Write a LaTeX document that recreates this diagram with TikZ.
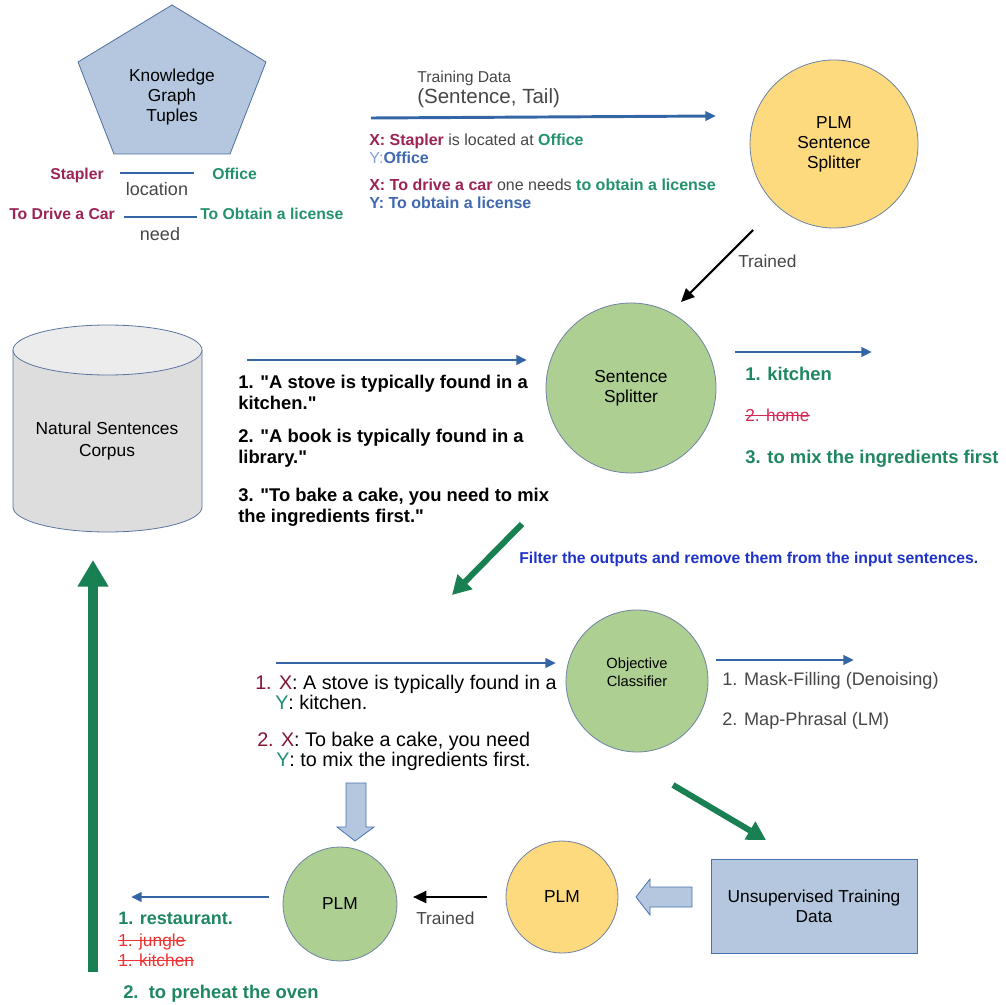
\documentclass[tikz,border=0pt]{standalone}
\usepackage{fontspec}
\setmainfont{Liberation Sans}[Ligatures=TeXOff]
\usetikzlibrary{arrows.meta}

\definecolor{kgblue}{RGB}{180,199,222}
\definecolor{kgborder}{RGB}{80,110,160}
\definecolor{lineblue}{RGB}{52,101,164}
\definecolor{plmyellow}{RGB}{253,218,125}
\definecolor{plmgreen}{RGB}{173,207,145}
\definecolor{circborder}{RGB}{110,130,165}
\definecolor{headred}{RGB}{155,35,85}
\definecolor{tailgreen}{RGB}{35,145,110}
\definecolor{ylight}{RGB}{130,160,210}
\definecolor{yblue}{RGB}{65,105,175}
\definecolor{darkgreen}{RGB}{24,128,82}
\definecolor{outgreen}{RGB}{30,135,95}
\definecolor{pinkred}{RGB}{215,40,85}
\definecolor{brightred}{RGB}{240,50,50}
\definecolor{filterblue}{RGB}{30,50,200}
\definecolor{cylbody}{RGB}{221,221,221}
\definecolor{cyltop}{RGB}{236,236,236}
\definecolor{cylborder}{RGB}{90,115,160}
\definecolor{textgray}{RGB}{70,70,70}
\definecolor{xred}{RGB}{130,20,50}
\definecolor{ygreen}{RGB}{30,140,120}
\definecolor{rectborder}{RGB}{70,114,180}

\begin{document}
\begin{tikzpicture}[x=0.75pt, y=-0.75pt,
        blue arrow/.style={lineblue, line width=2.2pt, -{Triangle[length=8pt, width=7pt]}},
        black arrow/.style={black, line width=1.6pt, -{Triangle[length=10pt, width=9pt]}},
        green arrow/.style={darkgreen, line width=4.5pt, -{Triangle[length=14pt, width=15pt]}},
        rel line/.style={lineblue, line width=2.2pt},
        strike/.style={line width=0.7pt},
        block/.style={fill=kgblue, draw=rectborder, line width=0.6pt},
        model/.style={circle, draw=circborder, line width=0.6pt, inner sep=0pt, align=center,
            font=\fontsize{13}{15}\selectfont},
        txt/.style={anchor=base west, inner sep=0pt, font=\fontsize{13}{15}\selectfont},
        btxt/.style={txt, font=\fontsize{13.8}{16}\selectfont\bfseries},
        stxt/.style={txt, font=\fontsize{12}{15}\selectfont},
        ltxt/.style={txt, font=\fontsize{14.8}{17}\selectfont},
    ]
        \useasboundingbox (0,0) rectangle (1006,1005);

        % knowledge graph tuples
        \filldraw[fill=kgblue, draw=kgborder, line width=0.6pt] (172,5) -- (266,62) -- (230,154) -- (114,154) -- (78,62) -- cycle;
        \node[align=center, font=\fontsize{13}{15}\selectfont] (kg) at (172,97) {Knowledge\\Graph\\Tuples};

        \node[txt, anchor=base east, headred, font=\fontsize{11.8}{14}\selectfont\bfseries] (stapler) at (104,180) {Stapler};
        \node[txt, tailgreen, font=\fontsize{11.8}{14}\selectfont\bfseries] (office) at (212,180) {Office};
        \node[txt, anchor=base, textgray, font=\fontsize{13.5}{16}\selectfont] (location) at (157,196) {location};
        \node[txt, headred, font=\fontsize{11.8}{14}\selectfont\bfseries] (drive) at (9,220) {To Drive a Car};
        \node[txt, tailgreen, font=\fontsize{11.8}{14}\selectfont\bfseries] (obtain) at (200,220) {To Obtain a license};
        \node[txt, anchor=base, textgray, font=\fontsize{13.5}{16}\selectfont] (need) at (160,241) {need};
        \coordinate (r1a) at (120,173);
        \coordinate (r1b) at (194,173);
        \coordinate (r2a) at (124,217);
        \coordinate (r2b) at (197,217);
        \draw[rel line] (r1a) -- (r1b);
        \draw[rel line] (r2a) -- (r2b);

        % training data
        \node[txt, textgray, font=\fontsize{11.8}{14}\selectfont] (tdlabel) at (417,83) {Training Data};
        \node[txt, textgray, font=\fontsize{15.4}{18}\selectfont] (tdpair) at (417,104) {(Sentence, Tail)};
        \coordinate (tda) at (371,118);
        \coordinate (tdb) at (716,116);
        \draw[blue arrow] (tda) -- (tdb);

        \node[stxt] (ex1x) at (369,146) {\textbf{\color{headred}X: Stapler} {\color{textgray}is located at} \textbf{\color{tailgreen}Office}};
        \node[stxt] (ex1y) at (369,164) {{\color{ylight}Y:}\textbf{\color{yblue}Office}};
        \node[stxt] (ex2x) at (369,191) {\textbf{\color{headred}X: To drive a car} {\color{textgray}one needs} \textbf{\color{tailgreen}to obtain a license}};
        \node[stxt] (ex2y) at (369,209) {\textbf{\color{yblue}Y: To obtain a license}};

        \node[model, fill=plmyellow, minimum size=126pt] (plmss) at (834,144) {PLM\\Sentence\\Splitter};

        \coordinate (tr1a) at (753,230);
        \coordinate (tr1b) at (681,302);
        \draw[black arrow] (tr1a) -- (tr1b);
        \node[txt, textgray] (trained1) at (738,268) {Trained};

        \node[model, fill=plmgreen, minimum size=127.5pt] (ss) at (631,388) {Sentence\\Splitter};

        % corpus
        \fill[cylbody] (13,350) -- (13,507) arc[start angle=180, end angle=0, x radius=94.5, y radius=25] -- (202,350) -- cycle;
        \draw[cylborder, line width=0.6pt] (13,350) -- (13,507) arc[start angle=180, end angle=0, x radius=94.5, y radius=25] -- (202,350);
        \filldraw[fill=cyltop, draw=cylborder, line width=0.6pt] (107.5,350) ellipse[x radius=94.5, y radius=25];
        \node[align=center, font=\fontsize{13}{16}\selectfont] (corpus) at (107,441) {Natural Sentences\\Corpus};

        \coordinate (ina) at (247,360);
        \coordinate (inb) at (527,360);
        \draw[blue arrow] (ina) -- (inb);
        \node[btxt] (s1a) at (238,388) {1. "A stove is typically found in a};
        \node[btxt] (s1b) at (238,409) {kitchen."};
        \node[btxt] (s2a) at (238,442) {2. "A book is typically found in a};
        \node[btxt] (s2b) at (238,463) {library."};
        \node[btxt] (s3a) at (238,501) {3. "To bake a cake, you need to mix};
        \node[btxt] (s3b) at (238,522) {the ingredients first."};

        \coordinate (outa) at (735,352);
        \coordinate (outb) at (872,352);
        \draw[blue arrow] (outa) -- (outb);
        \node[btxt, outgreen] (o1) at (745,380) {1. kitchen};
        \node[txt, pinkred] (o2) at (745,421) {2. home};
        \draw[strike, pinkred] ([yshift=3.8pt]o2.base west) -- ([yshift=3.8pt]o2.base east);
        \node[btxt, outgreen] (o3) at (745,463) {3. to mix the ingredients first};

        % filter
        \coordinate (fa) at (522,524);
        \coordinate (fb) at (452,595);
        \draw[green arrow] (fa) -- (fb);
        \node[txt, filterblue, font=\fontsize{11.8}{14}\selectfont\bfseries] (filter) at (519,563) {Filter the outputs and remove them from the input sentences.};

        % objective classifier
        \node[model, fill=plmgreen, minimum size=106.5pt, font=\fontsize{11}{13.5}\selectfont] (oc) at (637,681) {Objective\\Classifier\\~};
        \coordinate (oca) at (276,663);
        \coordinate (ocb) at (556,663);
        \draw[blue arrow] (oca) -- (ocb);
        \coordinate (occ) at (716,660);
        \coordinate (ocd) at (854,660);
        \draw[blue arrow] (occ) -- (ocd);
        \node[txt, textgray, font=\fontsize{13.6}{16}\selectfont] (mf) at (722,685) {1. Mask-Filling (Denoising)};
        \node[txt, textgray, font=\fontsize{13.6}{16}\selectfont] (mp) at (722,725) {2. Map-Phrasal (LM)};

        \node[ltxt] (p1x) at (255,689) {{\color{xred}1. X}: A stove is typically found in a};
        \node[ltxt] (p1y) at (275,709) {{\color{ygreen}Y}: kitchen.};
        \node[ltxt] (p2x) at (257,746) {{\color{xred}2. X}: To bake a cake, you need};
        \node[ltxt] (p2y) at (276,766) {{\color{ygreen}Y}: to mix the ingredients first.};

        % bottom row
        \filldraw[block] (346,783) -- (366,783) -- (366,827) -- (374,827) -- (355,841) -- (337,827) -- (346,827) -- cycle;
        \node[model, fill=plmgreen, minimum size=85.5pt] (plmg) at (340,904) {PLM};

        \coordinate (la) at (269,897);
        \coordinate (lb) at (131,897);
        \draw[blue arrow] (la) -- (lb);
        \node[btxt, outgreen, font=\fontsize{13.5}{16}\selectfont\bfseries] (r1) at (118,924) {1. restaurant.};
        \node[txt, brightred] (r2) at (118,946) {1. jungle};
        \draw[strike, brightred] ([yshift=3.8pt]r2.base west) -- ([yshift=3.8pt]r2.base east);
        \node[txt, brightred] (r3) at (118,966) {1. kitchen};
        \draw[strike, brightred] ([yshift=3.8pt]r3.base west) -- ([yshift=3.8pt]r3.base east);
        \node[btxt, outgreen] (r4) at (123,998) {2.\ \ to preheat the oven};

        \coordinate (ga) at (93,972);
        \coordinate (gb) at (93,560);
        \draw[darkgreen, line width=7.5pt, -{Triangle[length=20pt, width=22pt]}] (ga) -- (gb);

        \coordinate (tr2a) at (487,897);
        \coordinate (tr2b) at (413,897);
        \draw[black arrow] (tr2a) -- (tr2b);
        \node[txt, textgray] (trained2) at (416,924) {Trained};

        \node[model, fill=plmyellow, minimum size=84pt] (plmy) at (562,897) {PLM};
        \filldraw[block] (692,887) -- (650,887) -- (650,879) -- (636,897) -- (650,915) -- (650,907) -- (692,907) -- cycle;

        \node[block, minimum width=154.5pt, minimum height=70.5pt, align=center, font=\fontsize{13}{15}\selectfont] (utd) at (814,906) {Unsupervised Training\\Data};

        \coordinate (da) at (673,785);
        \coordinate (db) at (766,840);
        \draw[green arrow] (da) -- (db);
    \end{tikzpicture}
\end{document}
